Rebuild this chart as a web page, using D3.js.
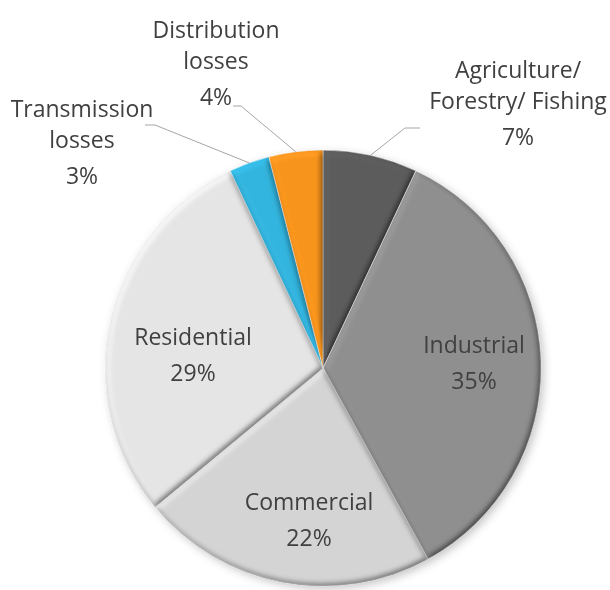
<!DOCTYPE html>
<html>
<head>
<meta charset="utf-8">
<script src="https://cdn.jsdelivr.net/npm/d3@7/dist/d3.min.js"></script>
<style>
  html, body { margin: 0; padding: 0; background: #ffffff; }
  svg { display: block; }
  text { font-family: "Open Sans", "DejaVu Sans", sans-serif; fill: #404040; }
</style>
</head>
<body>
<svg id="chart" width="610" height="590"></svg>
<script>
// Electricity end use and losses, share of total (%)
const categories = [
  "Agriculture/ Forestry/ Fishing",
  "Industrial",
  "Commercial",
  "Residential",
  "Transmission losses",
  "Distribution losses"
];
const shares = [7, 35, 22, 29, 3, 4];
const labelLines = [
  ["Agriculture/", "Forestry/ Fishing"],
  ["Industrial"],
  ["Commercial"],
  ["Residential"],
  ["Transmission", "losses"],
  ["Distribution", "losses"]
];
const sliceColors = ["#5c5c5c", "#8f8f8f", "#d4d4d4", "#e5e5e5", "#33b5df", "#f7941e"];

// Layout
const W = 610, H = 590;
const cx = 323, cy = 368, R = 218;
const fontSize = 23, nameStep = 31, pctStep = 36;

// Label anchors (centre x, first baseline) and leader elbows for the small slices
const labelLayout = [
  { x: 518, y: 78, leader: [[405, 128], [420, 128]] },
  { x: 474, y: 353 },
  { x: 309, y: 510 },
  { x: 193, y: 345 },
  { x: 82, y: 117, leader: [[155, 125], [145, 125]] },
  { x: 216, y: 38, leader: [[241, 106], [233, 106]] }
];

const svg = d3.select("#chart");
const defs = svg.append("defs");

// Soft bevel: diffuse light from the upper left on a blurred alpha bump
const bevel = defs.append("filter").attr("id", "bevel")
  .attr("x", "-5%").attr("y", "-5%").attr("width", "110%").attr("height", "110%");
bevel.append("feGaussianBlur").attr("in", "SourceAlpha").attr("stdDeviation", 3).attr("result", "bump");
const light = bevel.append("feDiffuseLighting")
  .attr("in", "bump").attr("surfaceScale", 4).attr("diffuseConstant", 1)
  .attr("lighting-color", "#ffffff").attr("result", "lit");
light.append("feDistantLight").attr("azimuth", 225).attr("elevation", 60);
bevel.append("feComposite").attr("in", "SourceGraphic").attr("in2", "lit")
  .attr("operator", "arithmetic").attr("k1", 1.1547).attr("k2", 0).attr("k3", 0).attr("k4", 0)
  .attr("result", "shaded");
bevel.append("feComposite").attr("in", "shaded").attr("in2", "SourceAlpha").attr("operator", "in");

// Drop shadow under the whole pie
const shadow = defs.append("filter").attr("id", "shadow")
  .attr("x", "-10%").attr("y", "-10%").attr("width", "125%").attr("height", "125%");
shadow.append("feDropShadow").attr("dx", 3).attr("dy", 3).attr("stdDeviation", 4)
  .attr("flood-color", "#000").attr("flood-opacity", 0.22);

const pie = d3.pie().sort(null).value(d => d)(shares);
const arc = d3.arc().innerRadius(0).outerRadius(R);
const rimArc = d3.arc().innerRadius(R).outerRadius(R);

const g = svg.append("g").attr("transform", `translate(${cx},${cy})`);
const slices = g.append("g").attr("filter", "url(#shadow)");

slices.selectAll("path")
  .data(pie)
  .join("path")
  .attr("d", arc)
  .attr("fill", (d, i) => sliceColors[i])
  .attr("stroke", "#ffffff")
  .attr("stroke-width", 0.6)
  .attr("filter", "url(#bevel)");

// Leader lines from the rim to the outside labels
const lineGen = d3.line();
pie.forEach((d, i) => {
  const lay = labelLayout[i];
  if (!lay.leader) return;
  const p = rimArc.centroid(d);
  const pts = [[p[0] + cx, p[1] + cy], ...lay.leader];
  svg.append("path")
    .attr("d", lineGen(pts))
    .attr("fill", "none")
    .attr("stroke", "#a6a6a6")
    .attr("stroke-width", 1);
});

// Labels: name lines followed by percentage
pie.forEach((d, i) => {
  const lay = labelLayout[i];
  const t = svg.append("text")
    .attr("text-anchor", "middle")
    .attr("font-size", fontSize);
  const lines = labelLines[i];
  lines.forEach((ln, j) => {
    t.append("tspan").attr("x", lay.x).attr("y", lay.y + j * nameStep).text(ln);
  });
  t.append("tspan")
    .attr("x", lay.x)
    .attr("y", lay.y + (lines.length - 1) * nameStep + pctStep)
    .text(d3.format(".0f")(d.data) + "%");
});
</script>
</body>
</html>
